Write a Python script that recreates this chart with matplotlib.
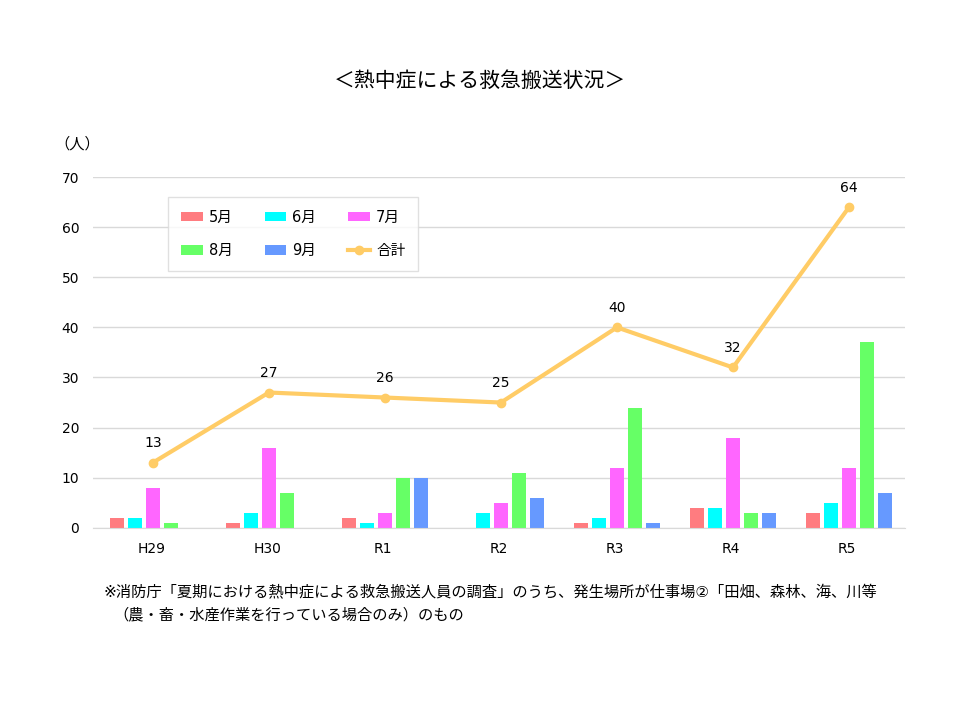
import matplotlib
matplotlib.use("Agg")
import matplotlib.pyplot as plt
import numpy as np

plt.rcParams['font.family'] = ['DejaVu Sans', 'Noto Sans CJK JP']

years = ['H29', 'H30', 'R1', 'R2', 'R3', 'R4', 'R5']
may = [2, 1, 2, 0, 1, 4, 3]
june = [2, 3, 1, 3, 2, 4, 5]
july = [8, 16, 3, 5, 12, 18, 12]
aug = [1, 7, 10, 11, 24, 3, 37]
sep = [0, 0, 10, 6, 1, 3, 7]
total = [13, 27, 26, 25, 40, 32, 64]

month_labels = ['5月', '6月', '7月', '8月', '9月']
colors = ['#FF7C80', '#00FFFF', '#FF66FF', '#66FF66', '#6699FF']
line_color = '#FFCC66'

fig = plt.figure(figsize=(9.6, 7.2), dpi=100)
ax = fig.add_axes([0.097, 0.267, 0.846, 0.487])

x = np.arange(len(years))
width = 0.12
pitch = 0.155
bars = []
for i, (vals, lab, c) in enumerate(zip([may, june, july, aug, sep], month_labels, colors)):
    b = ax.bar(x + (i - 2) * pitch + 0.015, vals, width, color=c, label=lab, zorder=2)
    bars.append(b)

line, = ax.plot(x + 0.015, total, color=line_color, linewidth=3, marker='o', markersize=6,
                label='合計', zorder=3)
for xi, t in zip(x + 0.015, total):
    ax.annotate(str(t), (xi, t), textcoords='offset points', xytext=(0, 9),
                ha='center', va='bottom', fontsize=10)

ax.set_xlim(-0.5, len(years) - 0.5)
ax.set_ylim(0, 70)
ax.set_yticks(range(0, 71, 10))
ax.set_xticks(x)
ax.set_xticklabels(years)
ax.tick_params(axis='both', length=0, labelsize=10, pad=10)
ax.grid(axis='y', color='#D9D9D9', linewidth=1, zorder=0)
ax.set_axisbelow(True)
for s in ['top', 'right', 'left']:
    ax.spines[s].set_visible(False)
ax.spines['bottom'].set_color('#D9D9D9')

handles = [bars[0], bars[3], bars[1], bars[4], bars[2], line]
labels = ['5月', '8月', '6月', '9月', '7月', '合計']
leg = ax.legend(handles, labels, ncol=3, loc='upper left', bbox_to_anchor=(0.083, 0.965),
                frameon=True, fancybox=False, edgecolor='#D9D9D9', fontsize=10.5,
                handlelength=1.5, handleheight=0.6, handletextpad=0.4, columnspacing=2.2,
                labelspacing=1.25, borderpad=0.9)
leg.get_frame().set_linewidth(1)

fig.text(0.5, 0.888, '＜熱中症による救急搬送状況＞', ha='center', va='center', fontsize=15)
fig.text(0.057, 0.800, '（人）', ha='left', va='center', fontsize=11)
fig.text(0.108, 0.176, '※消防庁「夏期における熱中症による救急搬送人員の調査」のうち、発生場所が仕事場②「田畑、森林、海、川等',
         ha='left', va='center', fontsize=11)
fig.text(0.118, 0.146, '（農・畜・水産作業を行っている場合のみ）のもの',
         ha='left', va='center', fontsize=11)

fig.savefig('out.png', dpi=100)
